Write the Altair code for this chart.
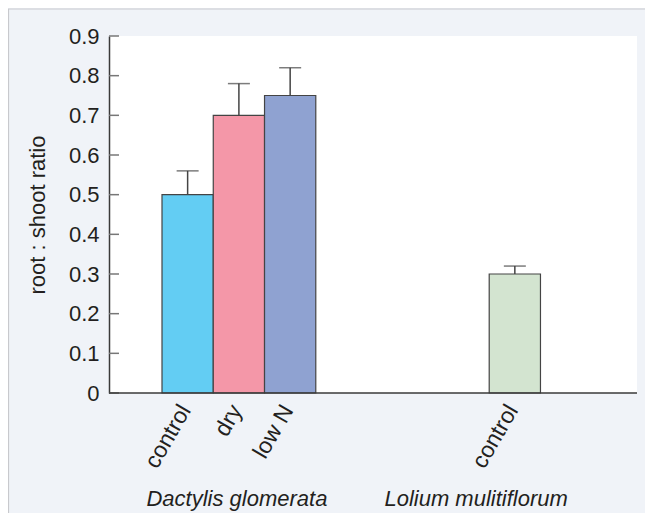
import altair as alt
import pandas as pd

# ---- data ----
groups = ["Dactylis glomerata", "Dactylis glomerata", "Dactylis glomerata", "Lolium mulitiflorum"]
treatments = ["control", "dry", "low N", "control"]
ratios = [0.50, 0.70, 0.75, 0.30]
errors = [0.06, 0.08, 0.07, 0.02]
y_ticks = [0, 0.1, 0.2, 0.3, 0.4, 0.5, 0.6, 0.7, 0.8, 0.9]
group_order = ["Dactylis glomerata", "Lolium mulitiflorum"]
treatment_order = ["control", "dry", "low N"]

# ---- styles ----
bar_colors = ["#63cdf3", "#f497a8", "#8fa2d1", "#d3e4d0"]
FONT = "Liberation Sans"
TXT = "#231f20"
LINE = "#3a3a3a"

df = pd.DataFrame({"group": groups, "treatment": treatments, "ratio": ratios, "err": errors})
df["key"] = df["group"] + " | " + df["treatment"]
df["upper"] = df["ratio"] + df["err"]
keys = list(df["key"])

W, H = 528, 357

x_enc = alt.X(
    "group:N",
    sort=group_order,
    scale=alt.Scale(domain=group_order, range=[53, 534], paddingInner=0.53, paddingOuter=0),
    axis=alt.Axis(
        title=None, labelAngle=0, ticks=False, domain=False,
        labelFontStyle="italic", labelFontSize=22, labelFont=FONT, labelColor=TXT,
        labelPadding=112, labelBaseline="alphabetic", labelLimit=400,
        labelOffset={"condition": {"test": "datum.value == 'Lolium mulitiflorum'", "value": -90}, "value": -2},
    ),
)
xo_enc = alt.XOffset("treatment:N", scale=alt.Scale(domain=treatment_order, paddingInner=0, paddingOuter=0))

y_axis = alt.Axis(
    values=y_ticks, format="~g", ticks=False, labelPadding=10, grid=False,
    domainColor=LINE, domainWidth=1.5,
    labelFontSize=22, labelFont=FONT, labelColor=TXT,
    title="root : shoot ratio", titleX=-65, titleY=178.5, titleAngle=270,
    titleAlign="center", titleBaseline="alphabetic", titleFontSize=22,
    titleFont=FONT, titleFontWeight="normal", titleColor=TXT,
)
y_scale = alt.Scale(domain=[0, 0.9], nice=False, zero=True)

base = alt.Chart(df)

bars = base.mark_bar(stroke="#444444", strokeWidth=1.2).encode(
    x=x_enc, xOffset=xo_enc,
    y=alt.Y("ratio:Q", scale=y_scale, axis=y_axis),
    color=alt.Color("key:N", scale=alt.Scale(domain=keys, range=bar_colors), legend=None),
)

err_line = base.mark_rule(color="#444444", strokeWidth=1.5).encode(
    x=x_enc, xOffset=xo_enc,
    y=alt.Y("ratio:Q", scale=y_scale, axis=y_axis),
    y2="upper:Q",
)

err_cap = base.mark_tick(color="#444444", thickness=1.5, size=22).encode(
    x=x_enc, xOffset=xo_enc,
    y=alt.Y("upper:Q", scale=y_scale, axis=y_axis),
)

labels = base.mark_text(
    angle=300, align="right", baseline="middle", dy=5, dx=-13,
    fontSize=23, font=FONT, color=TXT,
).encode(
    x=x_enc, xOffset=xo_enc,
    y=alt.YDatum(0, scale=y_scale, axis=y_axis),
    text="treatment:N",
)

one = alt.Chart(pd.DataFrame({"a": [0]}))

x_line = one.mark_rule(color=LINE, strokeWidth=1.5).encode(
    y=alt.YDatum(0, scale=y_scale, axis=y_axis),
    x=alt.value(0), x2=alt.value(W),
)

tick_df = pd.DataFrame({"t": y_ticks})
ticks = alt.Chart(tick_df).mark_rule(color="#777777", strokeWidth=1.5).encode(
    y=alt.Y("t:Q", scale=y_scale, axis=y_axis),
    x=alt.value(0), x2=alt.value(10),
)

border_top = one.mark_rule(color="#c8c9cd", strokeWidth=1.2).encode(
    y=alt.value(-27), x=alt.value(-101), x2=alt.value(W + 8),
)
border_left = one.mark_rule(color="#c8c9cd", strokeWidth=1.2).encode(
    x=alt.value(-100.5), y=alt.value(-27), y2=alt.value(H + 120),
)

chart = alt.layer(
    border_top, border_left, bars, err_line, err_cap, labels, ticks, x_line
).properties(
    width=W, height=H,
    autosize=alt.AutoSizeParams(type="none"),
    padding={"left": 101, "top": 28, "right": 8, "bottom": 120},
    background="#f0f3f8",
).configure_view(
    fill="white", stroke=None,
)

chart.save("out.html", embed_options={"renderer": "svg", "actions": False})
